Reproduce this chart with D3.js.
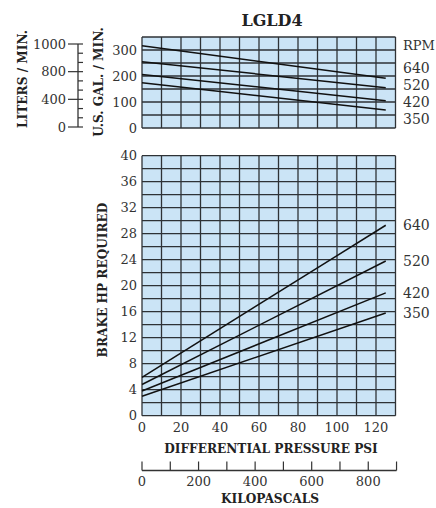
<!DOCTYPE html>
<html>
<head>
<meta charset="utf-8">
<script src="https://cdn.jsdelivr.net/npm/d3@7"></script>
<style>
  body { margin: 0; background: #fff; }
  text { font-family: "DejaVu Serif", serif; }
  .lbl { font-size: 13px; fill: #333; }
  .ttl { font-family: "DejaVu Serif Condensed", "DejaVu Serif", serif; font-weight: bold; font-size: 13.5px; fill: #222; }
</style>
</head>
<body>
<div id="chart"></div>
<script>
// ---- data ----
var rpm = ["640", "520", "420", "350"];
var psi = [0, 125];
var gpm640 = [316, 191], gpm520 = [255, 155], gpm420 = [206, 105], gpm350 = [174, 69];
var hp640 = [5.9, 29.3], hp520 = [4.8, 23.8], hp420 = [3.8, 18.9], hp350 = [3.0, 15.8];
var gpmLabelAt = [231, 165, 101, 35];   // where the rpm names sit on the flow panel
var gpmTicks = [0, 100, 200, 300];
var hpTicks = [0, 4, 8, 12, 16, 20, 24, 28, 32, 36, 40];
var psiTicks = [0, 20, 40, 60, 80, 100, 120];
var kpaTicks = [0, 100, 200, 300, 400, 500, 600, 700, 800, 900];
var kpaLabels = [0, 200, 400, 600, 800];
var literLabels = ["0", "400", "800", "1000"];

var W = 436, H = 508;
var env = {
    svg: null,
    x: d3.scaleLinear().domain([0, 130]).range([142, 395.5]),
    yFlow: d3.scaleLinear().domain([0, 350]).range([128, 37]),
    yHp: d3.scaleLinear().domain([0, 40]).range([415.7, 155.7]),
    kpa: d3.scaleLinear().domain([0, 130 * 6.89476]).range([142, 395.5]),
    liters: d3.scalePoint().domain(literLabels).range([127, 44]),
    fill: "#cbe4f6",
    grid: "#2e3236"
};

env.svg = d3.select("#chart").append("svg")
    .attr("width", W)
    .attr("height", H);

function panel(yScale, rowStep) {
    var g = env.svg.append("g");
    var x0 = env.x.range()[0], x1 = env.x.range()[1];
    var y0 = yScale.range()[1], y1 = yScale.range()[0];
    g.append("rect")
        .attr("x", x0).attr("y", y0)
        .attr("width", x1 - x0).attr("height", y1 - y0)
        .style("fill", env.fill);
    g.selectAll(".v").data(d3.range(0, 131, 10)).enter().append("line")
        .attr("x1", d => env.x(d)).attr("x2", d => env.x(d))
        .attr("y1", y0).attr("y2", y1)
        .style("stroke", env.grid).style("stroke-width", 1.3);
    g.selectAll(".h").data(d3.range(0, yScale.domain()[1] + 0.1, rowStep)).enter().append("line")
        .attr("x1", x0).attr("x2", x1)
        .attr("y1", d => yScale(d)).attr("y2", d => yScale(d))
        .style("stroke", env.grid).style("stroke-width", 1.3);
    return g;
}

function curves(g, yScale, series) {
    var line = d3.line().x((d, i) => env.x(psi[i])).y(d => yScale(d));
    g.selectAll(".c").data(series).enter().append("path")
        .attr("d", d => line(d))
        .style("fill", "none").style("stroke", "#111").style("stroke-width", 1.5);
}

// ---- flow panel ----
var gFlow = panel(env.yFlow, 50);
curves(gFlow, env.yFlow, [gpm640, gpm520, gpm420, gpm350]);

env.svg.selectAll(".gt").data(gpmTicks).enter().append("text")
    .attr("class", "lbl")
    .attr("x", 137).attr("y", d => env.yFlow(d)).attr("dy", "0.35em")
    .attr("text-anchor", "end").text(d => d);

env.svg.append("text").attr("class", "lbl")
    .attr("x", 403).attr("y", env.yFlow(319)).attr("dy", "0.35em").text("RPM");
env.svg.selectAll(".rf").data(rpm).enter().append("text")
    .attr("class", "lbl").style("font-size", "14px")
    .attr("x", 403).attr("y", (d, i) => env.yFlow(gpmLabelAt[i])).attr("dy", "0.35em")
    .text(d => d);

// liters scale
var lx = 78;
env.svg.append("line")
    .attr("x1", lx).attr("x2", lx)
    .attr("y1", env.liters(literLabels[3])).attr("y2", env.liters(literLabels[0]))
    .style("stroke", "#333").style("stroke-width", 1.3);
var step = env.liters.step() / 3;
env.svg.selectAll(".lm").data(d3.range(0, 10)).enter().append("line")
    .attr("x1", lx).attr("x2", lx + 5)
    .attr("y1", d => env.liters(literLabels[0]) - d * step)
    .attr("y2", d => env.liters(literLabels[0]) - d * step)
    .style("stroke", "#333").style("stroke-width", 1.2);
env.svg.selectAll(".lM").data(literLabels).enter().append("line")
    .attr("x1", lx - 10).attr("x2", lx)
    .attr("y1", d => env.liters(d)).attr("y2", d => env.liters(d))
    .style("stroke", "#333").style("stroke-width", 1.2);
env.svg.selectAll(".lt").data(literLabels).enter().append("text")
    .attr("class", "lbl")
    .attr("x", 66).attr("y", d => env.liters(d)).attr("dy", "0.35em")
    .attr("text-anchor", "end").text(d => d);

env.svg.append("text").attr("class", "ttl")
    .attr("transform", "translate(22,79) rotate(-90)")
    .attr("text-anchor", "middle").attr("dy", "0.35em").text("LITERS / MIN.");
env.svg.append("text").attr("class", "ttl")
    .attr("transform", "translate(98,82) rotate(-90)")
    .attr("text-anchor", "middle").attr("dy", "0.35em").text("U.S. GAL. / MIN.");

env.svg.append("text")
    .attr("x", 272).attr("y", 20).attr("dy", "0.35em")
    .attr("text-anchor", "middle")
    .style("font-weight", "bold").style("font-size", "16px").style("fill", "#222")
    .text("LGLD4");

// ---- horsepower panel ----
var gHp = panel(env.yHp, 2);
curves(gHp, env.yHp, [hp640, hp520, hp420, hp350]);

env.svg.selectAll(".ht").data(hpTicks).enter().append("text")
    .attr("class", "lbl")
    .attr("x", 137).attr("y", d => env.yHp(d)).attr("dy", "0.35em")
    .attr("text-anchor", "end").text(d => d);

var hpEnds = [hp640, hp520, hp420, hp350].map(s => s[s.length - 1]);
env.svg.selectAll(".rh").data(rpm).enter().append("text")
    .attr("class", "lbl").style("font-size", "14px")
    .attr("x", 403).attr("y", (d, i) => env.yHp(hpEnds[i])).attr("dy", "0.35em")
    .text(d => d);

env.svg.append("text").attr("class", "ttl")
    .attr("transform", "translate(102,280) rotate(-90)")
    .attr("text-anchor", "middle").attr("dy", "0.35em").text("BRAKE HP REQUIRED");

env.svg.selectAll(".pt").data(psiTicks).enter().append("text")
    .attr("class", "lbl")
    .attr("x", d => env.x(d)).attr("y", 427).attr("dy", "0.35em")
    .attr("text-anchor", "middle").text(d => d);

env.svg.append("text").attr("class", "ttl")
    .attr("x", 271).attr("y", 448).attr("dy", "0.35em")
    .attr("text-anchor", "middle").text("DIFFERENTIAL PRESSURE PSI");

// kilopascal scale
var ky = 470.5;
env.svg.append("line")
    .attr("x1", env.kpa(0)).attr("x2", env.kpa(900))
    .attr("y1", ky).attr("y2", ky)
    .style("stroke", "#333").style("stroke-width", 1.3);
env.svg.selectAll(".kt").data(kpaTicks).enter().append("line")
    .attr("x1", d => env.kpa(d)).attr("x2", d => env.kpa(d))
    .attr("y1", ky - 9).attr("y2", ky)
    .style("stroke", "#333").style("stroke-width", 1.2);
env.svg.selectAll(".kl").data(kpaLabels).enter().append("text")
    .attr("class", "lbl")
    .attr("x", d => env.kpa(d)).attr("y", 481).attr("dy", "0.35em")
    .attr("text-anchor", "middle").text(d => d);

env.svg.append("text").attr("class", "ttl")
    .attr("x", 270).attr("y", 498.5).attr("dy", "0.35em")
    .attr("text-anchor", "middle").text("KILOPASCALS");
</script>
</body>
</html>
